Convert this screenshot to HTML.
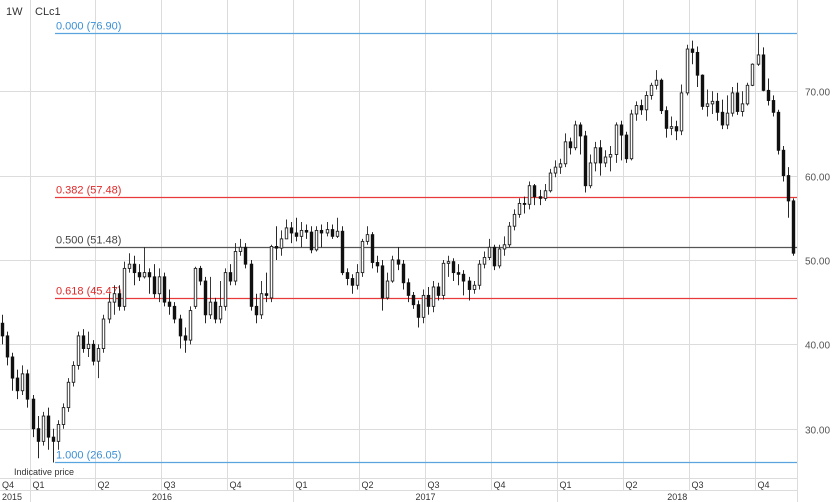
<!DOCTYPE html>
<html><head><meta charset="utf-8"><style>
html,body{margin:0;padding:0;background:#fff}
svg{display:block;font-family:"Liberation Sans",sans-serif}
</style></head><body>
<svg id="chart" width="834" height="502" viewBox="0 0 834 502" xmlns="http://www.w3.org/2000/svg">
<rect x="0" y="0" width="834" height="502" fill="#fff"/>
<g id="grid"></g>
<g id="fibs"></g>
<g id="candles"></g>
<g id="axes"></g>
<text x="6" y="15" font-size="11" fill="#333">1W</text>
<text x="35" y="15" font-size="11" fill="#333">CLc1</text>
<text x="14" y="475" font-size="9" fill="#333">Indicative price</text>
</svg>
<script>
const opens=[42.5,41,38.5,36,34.5,36.5,33.5,30,28.5,31.5,29,28.5,30.5,32.5,35.5,37.5,41,39.5,40,38,39.5,43,45,46,44.5,49,49.5,48.5,48,48.5,48,46,48,45,44.5,43,41,40.5,44.5,49,47.5,43.5,45,43,44.5,48.5,47.5,51,51.5,49.5,44.5,43.5,46,45.5,51.6,51.4,52.5,53.8,53.2,52.8,53.5,53.3,51.2,53.5,53.2,53.6,52.8,53.4,48.5,47.8,47,48.5,52.2,53,49.7,49.3,45.5,47.5,50,49.5,47.3,45.8,44.7,43.2,45.8,44.5,46.8,45.8,49.6,49.8,48.5,48.3,47.5,46.5,47,49.5,50.3,51.5,49.3,51.3,51.8,54,55.4,56.7,56.6,58.8,57.5,57.3,58.2,60.3,61,61.4,64,63.3,66,64.7,58.8,61.5,63.3,61.5,62.2,62.5,66,64.8,62,67.3,68.3,67.8,69.5,70.7,71.3,67.7,65.6,65.8,65.3,69.8,75,74.6,71.9,68.2,68.5,68.8,67.5,66,67.4,69.8,67.6,68.5,70.7,73.2,74.3,70.1,68.9,67.5,63,60,57];
const closes=[41,38.5,36,34.5,36.5,33.5,30,28.5,31.5,29,28.5,30.5,32.5,35.5,37.5,41,39.5,40,38,39.5,43,45,46,44.5,49,49.5,48.5,48,48.5,48,46,48,45,44.5,43,41,40.5,44,49,47.5,43.5,45,43,44.5,48.5,47.5,51,51.5,49.5,44.5,43.5,46,45.8,51.6,51.4,52.5,53.8,53.2,52.8,53.5,53.3,51.2,53.5,53.2,53.6,52.8,53.4,48.5,47.8,47,48.5,52.2,53,49.7,49.3,45.5,47.5,50,49.5,47.3,45.8,44.7,43.2,45.8,44.5,46.8,45.8,49.6,49.8,48.5,48.3,47.5,46.5,47,49.5,50.3,51.5,49.3,51.3,51.8,54,55.4,56.7,56.6,58.8,57.5,57.3,58.2,60.3,61,61.4,64,63.3,66,64.7,58.8,61.5,63.3,61.5,62.2,62.5,66,64.8,62,67.3,68.3,67.8,69.5,70.7,71.3,67.7,65.6,65.8,65.3,69.8,75,74.6,71.9,68.2,68.5,68.8,67.5,66,67.4,69.8,67.6,68.5,70.7,73.2,74.3,70.1,68.9,67.5,63,60,57,50.8];
const highs=[43.5,41.5,39,37,37.5,37,34,31.5,32,32.5,30,31,33,36,38,41.5,41.8,41.5,40.5,40,43.5,46,47,47,49.8,50.8,50.5,49.5,51.5,49,49.5,49,48.5,46.5,45,43.5,42,44.5,49.2,49.3,48,48,45.5,47.5,49,49.5,52,52.5,52,50,46,47.5,48.5,51.8,54,53.5,54.8,54.5,55,54.5,54.2,54,54,54.2,54.5,54.2,55,54,49,48.3,49.5,52.5,54,53.3,50.5,50,48.5,50.5,51.5,50,47.8,46.2,45.2,46.5,46.8,47.5,47.3,50,50.5,50.2,49.5,48.8,48,47.5,50,51,52.5,51.8,51.8,52.8,54.5,56,57.3,57.5,59.3,59,58.3,59,60.8,61.8,62,65,64.5,66.5,66.3,65.3,62.5,64,64.2,63,63.5,66.3,66.5,65.2,67.8,68.8,69,70,71,72.5,71.5,68.2,67,66.5,70.8,75.5,76,75.3,72,70.2,70,69.8,69,69.5,70.5,71,70,71,73.3,76.9,75.2,71.5,69.5,67.8,63.5,61,57.3];
const lows=[40,37.5,34.5,33.5,34,32.5,29,26.5,28,27.5,26,27.5,30,32,35,37,39,38.5,37.5,36,39,42.5,43.5,44,44,48.5,47,47.5,47.8,46,45.5,45,44.5,43.5,42.5,39.5,39,40,44.2,47,42.5,43,42.5,42.5,44,47,47,50.5,49,44,42.5,43,45,45,50,50.5,52.5,52,52.2,51.5,52.5,50.8,51,51.5,52.8,52.5,52.6,48.2,47,46,46.5,48,51.8,49,48.5,44,45.3,47.3,48.8,46.5,45,44.2,42,42.5,43.5,43.8,45.2,45.3,48,47.5,47,45.8,45.2,46,46.5,49,50,48.8,49,50.5,51.5,53.5,55,55.5,56,56.5,56.5,57,58,59.8,60.2,61,62.5,63,62.5,58,58.5,60.5,60,61,60.5,61.5,61.8,61.5,61.8,66.5,67.2,66.5,69,70.2,67.3,64.5,64.8,64.2,64.8,69.5,73.2,70.5,67.8,67,67.3,66.5,65.5,65.5,67,67.2,67,68.3,70.6,73,70,68.3,67,62.5,59.3,55,50.5];
const yTicks=[30,40,50,60,70];
const fibRatios=["0.000","0.382","0.500","0.618","1.000"];
const fibValues=[76.90,57.48,51.48,45.47,26.05];
const quarterLabels=["Q4","Q1","Q2","Q3","Q4","Q1","Q2","Q3","Q4","Q1","Q2","Q3","Q4"];
const quarterStartWeeks=[0,6,19,32,45,58,71,84,97,110,123,136,149];
const yearLabels=["2015","2016","2017","2018"];
const yearStartWeeks=[0,6,58,110];

const NS="http://www.w3.org/2000/svg";
const plotRight=797;
const N=closes.length;
function xScale(i){return 793-(N-1-i)*5.07;}
function yScale(v){return 33+(76.9-v)*8.437;}
function mk(tag,attrs,parent){const e=document.createElementNS(NS,tag);for(const k in attrs)e.setAttribute(k,attrs[k]);parent.appendChild(e);return e;}
const grid=document.getElementById('grid'),fibs=document.getElementById('fibs'),cg=document.getElementById('candles'),axes=document.getElementById('axes');
function bnd(w){return Math.round(xScale(w)-3)+0.5;}
quarterStartWeeks.forEach((w,k)=>{
  if(k===0) return;
  const x=bnd(w);
  const l=mk('line',{x1:x,x2:x,y1:0,y2:502,stroke:'#dcdcdc','stroke-width':1},grid);
  
  
});
yTicks.forEach(v=>{
  const y=Math.round(yScale(v))+0.5;
  const l=mk('line',{x1:0,x2:plotRight,y1:y,y2:y,stroke:'#dcdcdc','stroke-width':1},grid);
  
  
  const t=mk('text',{x:805,y:y+4,'font-size':10,fill:'#555'},axes);
  t.textContent=v.toFixed(2);
  
  
});
mk('line',{x1:plotRight+0.5,x2:plotRight+0.5,y1:0,y2:502,stroke:'#dcdcdc'},grid);
fibValues.forEach((v,k)=>{
  const y=Math.round(yScale(v))+0.5;
  const col=(k===0||k===4)?'#5aa5e0':(k===2?'#555':'#e83a3a');
  const tcol=(k===0||k===4)?'#3a8fd6':(k===2?'#444':'#e02828');
  const l=mk('line',{x1:55,x2:plotRight,y1:y,y2:y,stroke:col,'stroke-width':1.2},fibs);
  
  
  const t=mk('text',{x:56,y:y-4,'font-size':11,fill:tcol},fibs);
  t.textContent=fibRatios[k]+' ('+v.toFixed(2)+')';
  
  
});
for(let i=0;i<N;i++){
  const o=opens[i],c=closes[i],h=highs[i],lo=lows[i];
  const x=Math.round(xScale(i));
  const prev=i>0?closes[i-1]:o;
  let fill,stroke;
  if(c>=o && c>=prev){fill='#fff';stroke='#222';}
  else if(c<o && c<prev){fill='#111';stroke='#111';}
  else {fill='#888';stroke='#777';}
  const g=mk('g',{},cg);
  
  
  mk('line',{x1:x+0.5,x2:x+0.5,y1:yScale(h),y2:yScale(lo),stroke:stroke,'stroke-width':0.9},g);
  const top=yScale(Math.max(o,c)),bot=yScale(Math.min(o,c));
  mk('rect',{x:x-0.75,y:top,width:2.5,height:Math.max(1,bot-top),fill:fill,stroke:stroke,'stroke-width':0.9},g);
}
mk('rect',{x:0,y:478,width:plotRight,height:24,fill:'#fff'},axes);
mk('line',{x1:0,x2:plotRight,y1:478.5,y2:478.5,stroke:'#dcdcdc'},axes);
mk('line',{x1:0,x2:plotRight,y1:490.5,y2:490.5,stroke:'#dcdcdc'},axes);
quarterStartWeeks.forEach((w,k)=>{
  const bx=k===0?0:bnd(w);
  if(k>0) mk('line',{x1:bx,x2:bx,y1:478,y2:490,stroke:'#dcdcdc'},axes);
  const t=mk('text',{x:bx+2,y:488,'font-size':9,fill:'#333'},axes);
  t.textContent=quarterLabels[k];
  
  
});
yearStartWeeks.forEach((w,k)=>{
  const bx=k===0?0:bnd(w);
  const ex=k<yearStartWeeks.length-1?bnd(yearStartWeeks[k+1]):plotRight;
  if(k>0) mk('line',{x1:bx,x2:bx,y1:490,y2:502,stroke:'#dcdcdc'},axes);
  const t=mk('text',{x:k===0?2:(bx+ex)/2,y:500,'font-size':9,fill:'#333','text-anchor':k===0?'start':'middle'},axes);
  t.textContent=yearLabels[k];
  
  
});
</script>
</body></html>
